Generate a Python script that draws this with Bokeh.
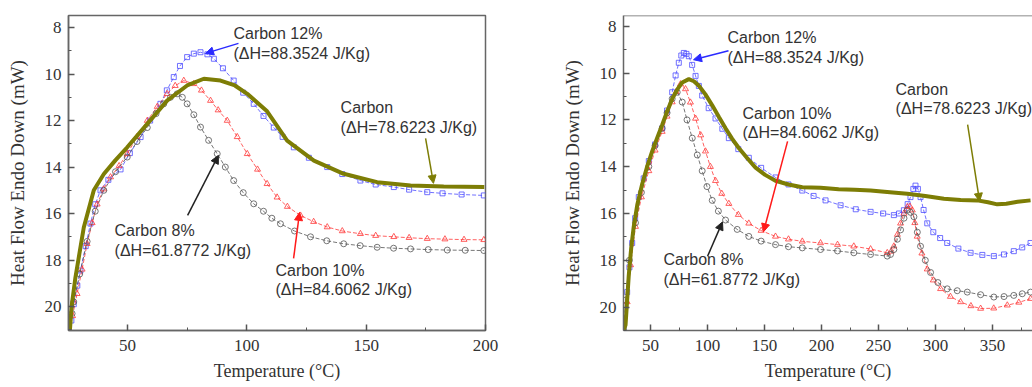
from bokeh.plotting import figure
from bokeh.layouts import row
from bokeh.models import Range1d, SingleIntervalTicker, Arrow, NormalHead, Label, Span
from bokeh.embed import file_html
from bokeh.resources import INLINE

# ---------------- data: left panel (25-200 C) ----------------
left_carbon_T = [25.9, 26.6, 28.2, 31.7, 35.9, 40.1, 45, 49.9, 58.3, 66.6, 75.0, 82.0, 89.0, 95, 100.2, 108.5,
                 116.9, 128.1, 140.6, 154.6, 168.6, 182.5, 199.5]
left_carbon_H = [21.0, 20.0, 18.75, 16.6, 15.0, 14.3, 13.7, 13.15, 12.14, 11.14, 10.49, 10.2, 10.28, 10.49, 10.85, 11.6,
                 12.86, 13.72, 14.29, 14.65, 14.79, 14.84, 14.86]

left_c12_T = [26.5, 27.5, 29, 30.3, 32.5, 34.5, 36.5, 38.7, 42, 47.1, 51, 55.5, 59.5, 63.8, 66.5, 69.4, 72, 75.0,
              77.8, 80.6, 83.5, 86.2, 90, 94.5, 98.5, 102.9, 107, 111.3, 115, 119.7, 126, 133.7, 140, 147.6, 154,
              161.6, 168, 175.6, 182, 190, 199.3]
left_c12_H = [20.6, 19.9, 19.1, 18.45, 17.4, 16.43, 15.6, 15.0, 14.55, 14.1, 13.4, 12.71, 12.0, 11.28, 10.7, 10.13,
              9.65, 9.27, 9.12, 9.06, 9.15, 9.34, 9.75, 10.28, 10.8, 11.28, 11.8, 12.3, 12.7, 13.15, 13.6, 14.0, 14.3,
              14.58, 14.75, 14.86, 14.97, 15.08, 15.13, 15.18, 15.22]

left_c10_T = [27, 28.9, 31, 33.1, 35.2, 37.3, 40, 42.9, 46.5, 49.9, 54, 58.3, 62.5, 66.6, 70, 73.6, 77.8, 81, 84.8,
              88, 91.8, 96, 100.2, 104.5, 108.5, 112.7, 117, 122.5, 128, 133.7, 140, 147.6, 154, 161.6, 168, 175.6,
              183, 191, 199.3]
left_c10_H = [20.4, 19.45, 18.4, 17.3, 16.4, 15.6, 14.95, 14.43, 13.95, 13.43, 12.7, 12.0, 11.4, 10.85, 10.5, 10.28,
              10.42, 10.7, 11.14, 11.55, 12.0, 12.7, 13.43, 14.1, 14.72, 15.3, 15.7, 16.08, 16.35, 16.58, 16.75, 16.87,
              16.95, 17.0, 17.04, 17.08, 17.1, 17.12, 17.13]

left_c8_T = [26.8, 27.5, 30, 33.1, 36.5, 40.1, 45, 49.9, 54, 58.3, 62, 65.2, 68, 70.8, 73, 75, 77.8, 80.6, 84, 87.6,
             91, 94.5, 98.5, 102.9, 107, 110.5, 114.1, 120, 126.7, 133.5, 140.6, 147.5, 154.6, 161.5, 168.6, 176,
             184, 191.5, 199.3]
left_c8_H = [20.3, 19.8, 18.6, 17.2, 15.9, 15.0, 14.2, 13.57, 12.9, 12.3, 11.7, 11.28, 11.0, 10.85, 11.0, 11.28, 11.75,
             12.28, 12.85, 13.43, 14.0, 14.58, 15.1, 15.58, 15.9, 16.2, 16.44, 16.75, 17.0, 17.17, 17.3, 17.38, 17.45,
             17.49, 17.52, 17.55, 17.57, 17.58, 17.59]

# ---------------- data: right panel (25-400 C) ----------------
right_carbon_T = [26.5, 28.1, 30.9, 33, 35.3, 38.5, 42.7, 47, 51.5, 56, 60.2, 64.5, 69.0, 73.5, 77.8, 83.6, 88, 92.4,
                  98, 104.1, 110, 115.8, 121.5, 127.4, 134.5, 142.1, 150.5, 159.6, 171, 183.1, 199.1, 215, 229, 243,
                  260, 275.2, 291, 307.3, 322, 336.6, 346, 354.1, 362, 372, 383.3]
right_carbon_H = [21.0, 20.76, 18.66, 17.5, 16.56, 15.6, 14.74, 14.0, 13.34, 12.75, 12.22, 11.65, 11.1, 10.7, 10.4,
                  10.26, 10.35, 10.54, 10.9, 11.38, 11.88, 12.36, 12.8, 13.2, 13.62, 14.04, 14.35, 14.6, 14.76, 14.88,
                  14.9, 14.96, 14.99, 15.02, 15.09, 15.16, 15.25, 15.37, 15.42, 15.44, 15.52, 15.61, 15.58, 15.5, 15.44]

right_c12_T = [26.5, 29.5, 31.5, 33.9, 36.5, 39.7, 44, 48.5, 54, 60.2, 64.5, 69.0, 72, 74.8, 77, 79.2, 81.5, 83.6,
               86.5, 89.5, 92.4, 95.3, 101, 107, 113, 118.7, 127, 136.2, 147, 159.6, 171, 183.1, 193, 203.5, 216.7,
               230, 243, 254, 263.4, 268, 272.2, 275.5, 278, 280.5, 282.4, 284.5, 286.8, 289.5, 292.7, 298, 304,
               310.2, 320, 330.7, 341, 351.1, 360, 368.6, 376, 383.3]
right_c12_H = [20.8, 19.36, 18.3, 17.26, 16.2, 15.3, 14.5, 13.76, 13.05, 12.36, 11.6, 10.82, 10.1, 9.56, 9.25, 9.14,
               9.18, 9.28, 9.65, 10.12, 10.55, 10.96, 11.5, 11.94, 12.38, 12.78, 13.25, 13.62, 14.05, 14.46, 14.76,
               15.02, 15.25, 15.44, 15.65, 15.82, 15.93, 16.0, 16.07, 16.0, 15.86, 15.6, 15.3, 14.95, 14.81, 14.95,
               15.3, 15.85, 16.42, 16.8, 17.05, 17.26, 17.5, 17.68, 17.77, 17.82, 17.75, 17.61, 17.45, 17.26]

right_c10_T = [26.5, 29.5, 32.5, 36.8, 42, 48.5, 54, 60.2, 64.5, 69.0, 72.5, 76.3, 80.7, 85, 89.5, 94, 98.2, 102.5,
               107, 112.5, 118.7, 127, 136.2, 147, 159.6, 171, 183.1, 199.1, 214, 228.3, 243, 257.6, 261, 263.4,
               266.5, 269.3, 272.3, 275.2, 277.5, 279.6, 281.8, 283.9, 288, 292.7, 298, 304.4, 313, 321.9, 331,
               339.5, 351, 362.9, 373, 383.3]
right_c10_H = [21.0, 19.78, 18.2, 16.56, 15.3, 14.18, 13.3, 12.5, 11.85, 11.24, 10.8, 10.47, 10.68, 11.25, 11.94,
               12.65, 13.34, 14.0, 14.6, 15.15, 15.58, 16.05, 16.42, 16.73, 16.98, 17.1, 17.19, 17.26, 17.33, 17.4,
               17.52, 17.68, 17.62, 17.4, 16.9, 16.42, 16.0, 15.72, 15.7, 15.86, 16.4, 16.98, 17.7, 18.38, 18.85,
               19.22, 19.55, 19.78, 19.95, 20.06, 20.05, 19.92, 19.8, 19.64]

right_c8_T = [26.5, 28.1, 31.5, 36.8, 42, 48.5, 54, 60.2, 64.5, 69.0, 73.4, 77.8, 82, 86.6, 91, 95.3, 99.5, 104.1,
              109.5, 115.8, 126, 136.2, 147, 159.6, 171, 183.1, 199.1, 214, 228.3, 243, 257.6, 260.5, 263.4, 266.5,
              269.3, 272.3, 275.2, 278, 281, 284, 286.8, 291, 295.6, 302, 310.2, 319, 327.8, 339.5, 351.1, 360,
              368.6, 376, 383.3]
right_c8_H = [21.0, 19.7, 18.0, 16.4, 15.1, 14.0, 13.1, 12.36, 11.7, 11.1, 10.82, 11.24, 12.0, 12.78, 13.5, 14.18,
              14.85, 15.44, 15.9, 16.28, 16.68, 16.98, 17.18, 17.33, 17.42, 17.47, 17.54, 17.6, 17.68, 17.75, 17.82,
              17.75, 17.54, 17.1, 16.7, 16.2, 15.86, 15.95, 16.14, 16.8, 17.4, 18.0, 18.52, 18.95, 19.22, 19.3, 19.36,
              19.47, 19.57, 19.55, 19.5, 19.43, 19.36]

labels_c12 = ["Carbon 12%", "(\u0394H=88.3524 J/Kg)"]
labels_c10 = ["Carbon 10%", "(\u0394H=84.6062 J/Kg)"]
labels_c8 = ["Carbon 8%", "(\u0394H=61.8772 J/Kg)"]
labels_c = ["Carbon", "(\u0394H=78.6223 J/Kg)"]

OLIVE = "#7d7d05"
BLUE = "#4d4dff"
RED = "#ff3a3a"
BLACK = "#555555"
SERIF = "Liberation Serif"
SANS = "Liberation Sans"


def style(p):
    for ax in (p.xaxis[0], p.yaxis[0]):
        ax.axis_line_color = "#666666"
        ax.axis_line_width = 1.5
        ax.major_tick_in = 6
        ax.major_tick_out = 0
        ax.minor_tick_in = 3
        ax.minor_tick_out = 0
        ax.major_tick_line_color = "#555555"
        ax.minor_tick_line_color = "#555555"
        ax.major_tick_line_width = 1.5
        ax.major_label_text_font = SERIF
        ax.major_label_text_font_size = "17px"
        ax.major_label_text_color = "#333333"
        ax.axis_label_text_font = SERIF
        ax.axis_label_text_font_style = "normal"
        ax.axis_label_text_color = "#333333"
    p.xaxis[0].axis_label_text_font_size = "18px"
    p.yaxis[0].axis_label_text_font_size = "19px"
    p.xaxis[0].ticker = SingleIntervalTicker(interval=50, num_minor_ticks=2)
    p.yaxis[0].ticker = SingleIntervalTicker(interval=2, num_minor_ticks=2)
    p.xaxis[0].major_label_standoff = 9
    p.xaxis[0].axis_label_standoff = 7
    p.yaxis[0].major_label_standoff = 7
    p.yaxis[0].axis_label_standoff = 14
    p.xgrid.grid_line_color = None
    p.ygrid.grid_line_color = None


def draw_series(p, T12, H12, T10, H10, T8, H8, Tc, Hc):
    p.line(T12, H12, line_color=BLUE, line_width=1, line_dash="4 2", line_alpha=0.8)
    p.scatter(T12, H12, marker="square", size=5, fill_color=None, line_color=BLUE, line_alpha=0.8)
    p.line(T10, H10, line_color=RED, line_width=1, line_dash="4 2", line_alpha=0.8)
    p.scatter(T10, H10, marker="triangle", size=6, fill_color=None, line_color=RED, line_alpha=0.8)
    p.line(T8, H8, line_color=BLACK, line_width=1, line_dash="4 2", line_alpha=0.8)
    p.scatter(T8, H8, marker="circle", size=6, fill_color=None, line_color=BLACK, line_alpha=0.8)
    p.line(Tc, Hc, line_color=OLIVE, line_width=4)


def annotate(p, x, y, lines, dy):
    for i, t in enumerate(lines):
        p.add_layout(Label(x=x, y=y + i * dy, text=t, text_font=SANS, text_font_size="16px",
                           text_color="#333333", text_baseline="middle"))


def arrow(p, x0, y0, x1, y1, color):
    p.add_layout(Arrow(end=NormalHead(size=8, fill_color=color, line_color=color),
                       x_start=x0, y_start=y0, x_end=x1, y_end=y1,
                       line_color=color, line_width=1.5))


# ---------------- left figure ----------------
pl = figure(width=545, height=387, output_backend="svg", toolbar_location=None,
            x_range=Range1d(25.3, 200), y_range=Range1d(21.03, 7.48),
            min_border_left=68, min_border_right=60, min_border_top=15, min_border_bottom=57,
            x_axis_label="Temperature (\u00b0C)", y_axis_label="Heat Flow Endo Down (mW)")
pl.outline_line_color = "#666666"
pl.outline_line_width = 1.5
style(pl)
draw_series(pl, left_c12_T, left_c12_H, left_c10_T, left_c10_H, left_c8_T, left_c8_H, left_carbon_T, left_carbon_H)
annotate(pl, 94.4, 8.25, labels_c12, 0.86)
arrow(pl, 96.5, 8.68, 82.7, 9.11, "#2a2aff")
annotate(pl, 139.3, 11.44, labels_c, 0.86)
arrow(pl, 174.9, 12.77, 178.2, 14.7, OLIVE)
annotate(pl, 44.6, 16.73, labels_c8, 0.86)
arrow(pl, 75.2, 16.08, 88.1, 13.5, "#222222")
annotate(pl, 112.0, 18.45, labels_c10, 0.82)
arrow(pl, 119.6, 17.93, 122.1, 15.95, "#ff1a1a")

# ---------------- right figure ----------------
pr = figure(width=487, height=387, output_backend="svg", toolbar_location=None,
            x_range=Range1d(26.3, 385), y_range=Range1d(21.0, 7.54),
            min_border_left=78, min_border_right=0, min_border_top=12, min_border_bottom=54,
            x_axis_label="Temperature (\u00b0C)", y_axis_label="Heat Flow Endo Down (mW)")
pr.outline_line_color = None
style(pr)
pr.add_layout(Span(location=7.54, dimension="width", line_color="#666666", line_width=1.5))
draw_series(pr, right_c12_T, right_c12_H, right_c10_T, right_c10_H, right_c8_T, right_c8_H,
            right_carbon_T, right_carbon_H)
annotate(pr, 117.5, 8.46, labels_c12, 0.89)
arrow(pr, 118.4, 9.05, 87.7, 9.43, "#2a2aff")
annotate(pr, 130.7, 11.74, labels_c10, 0.8)
arrow(pr, 170.2, 12.92, 149.1, 16.78, "#ff1a1a")
annotate(pr, 264.9, 10.69, labels_c, 0.84)
arrow(pr, 328.1, 12.2, 338.6, 15.48, OLIVE)
annotate(pr, 61.4, 17.96, labels_c8, 0.84)
arrow(pr, 100, 17.83, 113.1, 16.36, "#222222")

layout = row(pl, pr)
open("out.html", "w").write(file_html(layout, INLINE))
